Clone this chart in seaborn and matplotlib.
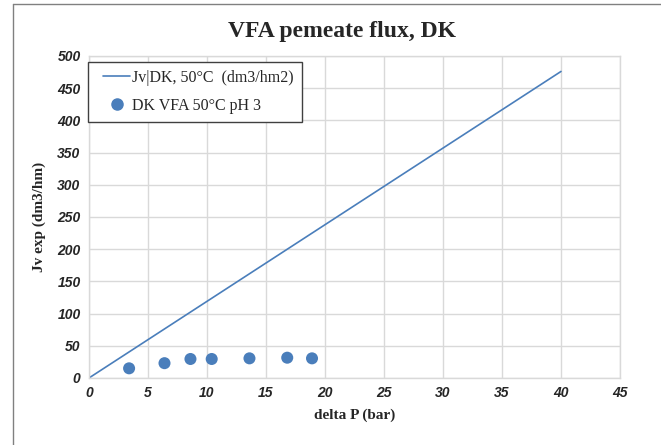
import numpy as np
import pandas as pd
import seaborn as sns
import matplotlib.pyplot as plt
from matplotlib.lines import Line2D
from matplotlib.legend_handler import HandlerLine2D

# model line Jv|DK, 50 C
line_dp = [0, 40]
line_jv = [0, 476]

# measured points, DK VFA 50 C pH 3
pts_dp = [3.4, 6.4, 8.6, 10.4, 13.6, 16.8, 18.9]
pts_jv = [15, 23, 29.5, 29.5, 30.5, 31.5, 30.5]

x_ticks = [0, 5, 10, 15, 20, 25, 30, 35, 40, 45]
y_ticks = [0, 50, 100, 150, 200, 250, 300, 350, 400, 450, 500]

blue = "#4a7ebb"
grid_col = "#d9d9d9"

sns.set_style("white")
plt.rcParams['font.family'] = ['Liberation Serif', 'DejaVu Serif']

df_line = pd.DataFrame(dict(dp=line_dp, jv=line_jv))
df_pts = pd.DataFrame(dict(dp=pts_dp, jv=pts_jv))

fig = plt.figure(figsize=(6.61, 4.45), dpi=100)
ax = fig.add_axes([0.1346, 0.1506, 0.8034, 0.7236])

sns.lineplot(df_line, x="dp", y="jv", color=blue, linewidth=1.2, ax=ax)
sns.scatterplot(df_pts, x="dp", y="jv", color=blue, s=75, edgecolor="none", ax=ax, zorder=3)

ax.set_xlim(0, 45)
ax.set_ylim(0, 500)
ax.set_xticks(x_ticks)
ax.set_yticks(y_ticks)
ax.grid(True, color=grid_col, linewidth=1)
ax.set_axisbelow(True)
for s in ax.spines.values():
    s.set_color(grid_col)
    s.set_linewidth(1)
ax.tick_params(length=0, pad=6)
for lab in ax.get_xticklabels() + ax.get_yticklabels():
    lab.set_family("Liberation Sans")
    lab.set_fontweight("bold")
    lab.set_fontstyle("italic")
    lab.set_fontsize(10)
    lab.set_color("#262626")

ax.set_xlabel("delta P (bar)", fontsize=11, fontweight="bold", labelpad=6)
ax.set_ylabel("Jv exp (dm3/hm)", fontsize=11, fontweight="bold", labelpad=8)
fig.text(0.517, 1 - 32 / 445, "VFA pemeate flux, DK", fontsize=17, fontweight="bold",
         ha="center", va="center")

handles = [
    Line2D([], [], color=blue, linewidth=1.2),
    Line2D([], [], color=blue, marker="o", linestyle="none", markersize=8),
]
labels = ["Jv|DK, 50°C  (dm3/hm2)", "DK VFA 50°C pH 3"]
leg = ax.legend(handles, labels, loc="upper left", bbox_to_anchor=(-0.002, 0.982),
                fontsize=11.5, frameon=True, fancybox=False, edgecolor="#404040",
                framealpha=1, borderaxespad=0, borderpad=0.5, handlelength=2.15,
                handletextpad=0.12, labelspacing=0.75,
                handler_map={Line2D: HandlerLine2D(xpad=0.45)})
leg.get_frame().set_linewidth(1)

# outer chart frame (left and top edges visible)
fig.add_artist(Line2D([0.02, 0.02], [0, 0.99], transform=fig.transFigure, color="#808080", linewidth=1))
fig.add_artist(Line2D([0.02, 1], [0.99, 0.99], transform=fig.transFigure, color="#808080", linewidth=1))

plt.savefig("out.png", dpi=100)
